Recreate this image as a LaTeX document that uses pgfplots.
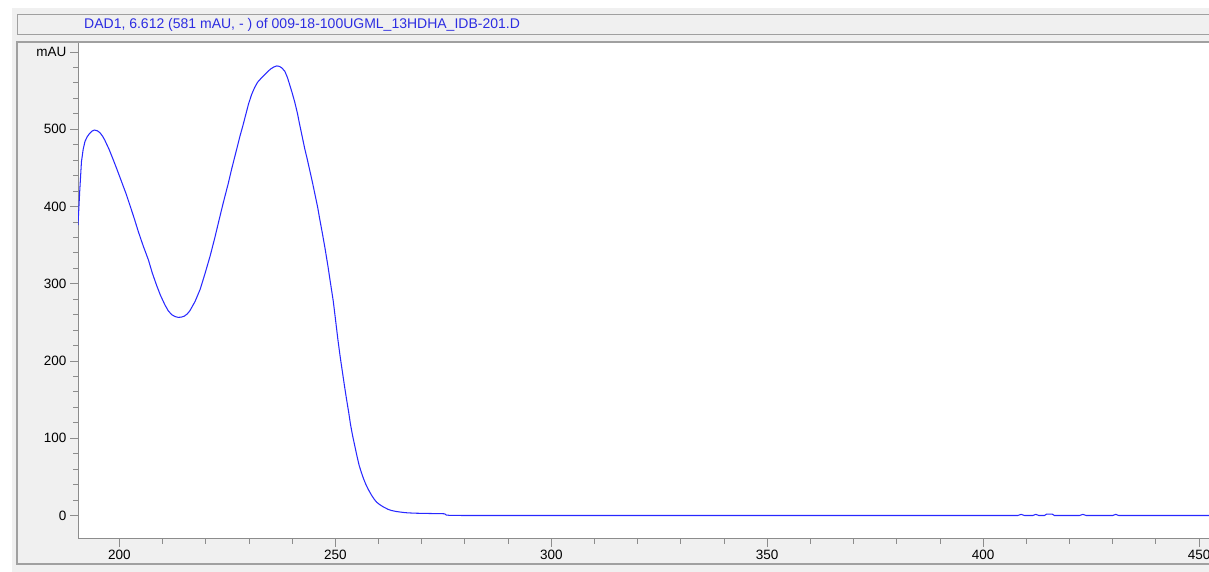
\documentclass[border=0pt]{standalone}
\usepackage{pgfplots}
\pgfplotsset{compat=1.18}
\usepackage{fontspec}
\setmainfont{Liberation Sans}
\definecolor{bggray}{HTML}{F0F0F0}
\definecolor{framegray}{HTML}{A0A0A0}
\definecolor{axisgray}{HTML}{8C8C8C}
\definecolor{titleblue}{RGB}{45,45,225}
\definecolor{curveblue}{RGB}{40,40,255}
\begin{document}
\begin{tikzpicture}[x=1pt,y=1pt]
\useasboundingbox (0,0) rectangle (1209,572);
\clip (0,0) rectangle (1209,572);
\fill[white] (0,0) rectangle (1209,572);
\fill[bggray] (12,0) rectangle (1209,564);
% title box
\draw[framegray, line width=1pt, fill=bggray] (17,537) rectangle (1240,557);
\node[anchor=west, text=titleblue, font=\fontsize{14}{16}\selectfont, inner sep=0pt] at (84,547)
  {DAD1, 6.612 (581 mAU, - ) of 009-18-100UGML\_13HDHA\_IDB-201.D};
% panel frame
\draw[framegray, line width=1.2pt] (1240,530) -- (17,530) -- (17,8) -- (1240,8);
\begin{axis}[
  at={(78pt,33pt)}, anchor=south west,
  scale only axis, width=1131pt, height=496pt,
  xmin=190.4, xmax=452.3, ymin=-30.4, ymax=611.7,
  axis background/.style={fill=white},
  axis x line*=bottom, axis y line*=left,
  axis line style={-, draw=axisgray, line width=1pt},
  tick align=outside,
  major tick length=8pt, minor tick length=5pt,
  every tick/.style={draw=axisgray, line width=0.9pt},
  xtick={200,250,300,350,400,450},
  minor x tick num=4,
  ytick={0,100,200,300,400,500,600},
  yticklabels={0,100,200,300,400,500,mAU},
  minor y tick num=4,
  ticklabel style={font=\fontsize{13.5}{15}\selectfont, text=black},
  /pgf/number format/assume math mode=true,
  /pgf/number format/1000 sep={},
  clip=true,
]
\addplot[curveblue, line width=1.05pt] coordinates {
(190.4,376) (190.8,420) (191.2,458) (191.6,474) (192.0,484) (192.5,490) (193.0,494) (193.6,497.5) (194.2,499)
(194.9,498) (195.5,495.5) (196.1,491) (196.6,486) (197.6,474) (198.6,460) (199.5,447) (200.5,432)
(201.5,417) (202.4,402) (203.4,385) (204.4,367) (205.5,349) (206.7,331) (207.6,314) (208.6,298)
(209.5,285) (210.5,273) (211.3,265) (212.1,260) (212.9,257.5) (213.6,256.5) (214.3,256.8) (215.0,258)
(215.7,261) (216.3,265) (217.5,277) (218.7,293) (219.8,313) (221.0,336) (222.1,360) (223.0,381)
(224.0,404) (225.2,430) (226.0,449) (227.0,471) (227.9,491) (228.6,505) (229.2,518) (229.9,533)
(230.6,545) (231.3,554) (232.0,561) (232.8,566) (233.7,571) (234.4,575) (235.0,578) (235.7,580.5)
(236.4,582) (237.0,581.5) (237.6,579.5) (238.3,575) (238.9,567) (239.4,558) (240.0,547) (240.6,535)
(241.2,521) (241.7,507) (242.3,491) (242.9,475) (243.5,461) (244.1,446) (244.7,431) (245.3,415)
(245.9,399) (246.4,383) (247.0,365) (247.6,346) (248.3,322) (249.0,296) (249.5,278) (250.0,255)
(250.6,227) (251.1,206) (251.6,187) (252.1,168) (252.6,150) (253.1,133) (253.5,118) (254.0,103)
(254.5,90) (255.0,77) (255.5,65) (256.0,56) (256.5,48) (257.0,41) (257.6,34) (258.3,27) (259.0,21)
(259.6,17) (260.3,14) (261.0,11.5) (261.5,10) (262.2,8) (263.0,6.5) (264.0,5.3) (265.0,4.5)
(266.0,3.8) (266.9,3.4) (268.5,3.0) (270.0,2.8) (272.0,2.6) (274.6,2.4) (275.3,2.2) (275.7,0.6)
(276.5,0.2) (280,0) (300,0) (350,0) (400,0)
(408.0,0) (408.8,1.5) (409.6,0) (411.5,0) (412.2,1.5) (412.9,0) (414.2,0) (414.7,1.8) (416.0,1.8)
(416.5,0) (422.3,0) (423.1,1.5) (423.9,0) (430.0,0) (430.7,1.5) (431.4,0) (452.3,0)
};
\end{axis}
\end{tikzpicture}
\end{document}
